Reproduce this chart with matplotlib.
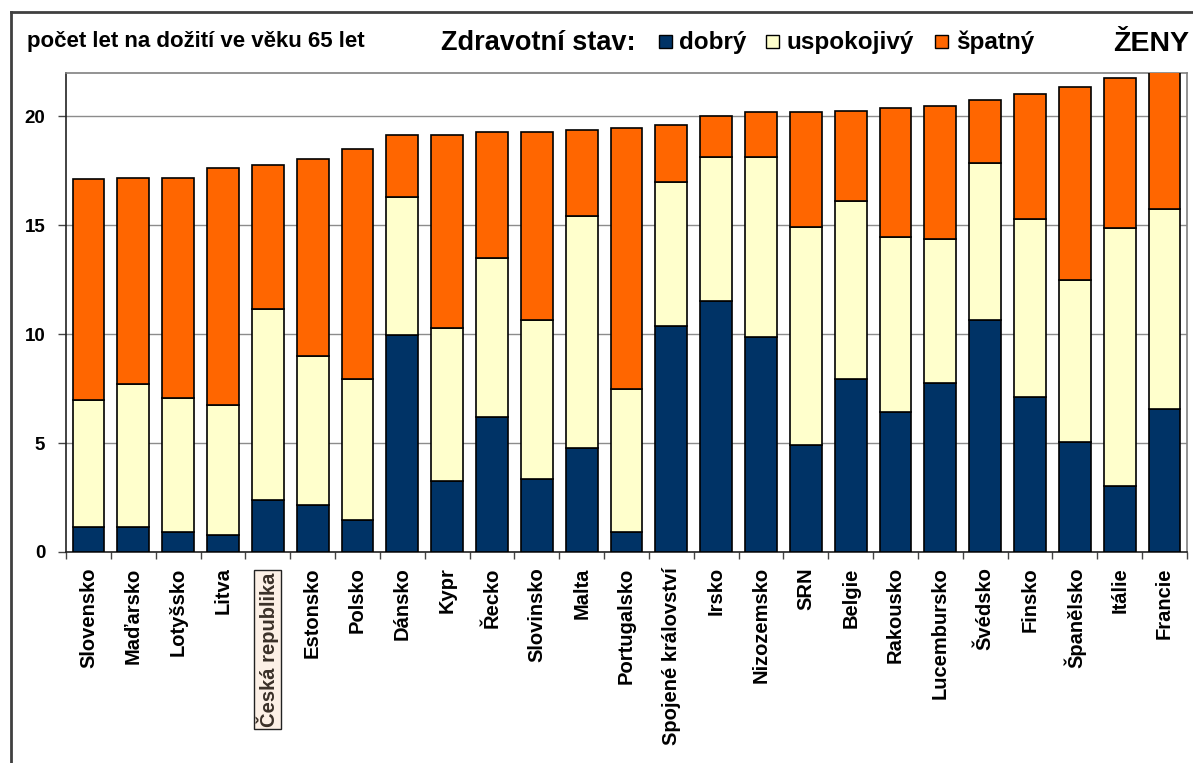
import matplotlib
matplotlib.use("Agg")
import matplotlib.pyplot as plt
from matplotlib.patches import Rectangle
from matplotlib.lines import Line2D
import numpy as np

plt.rcParams['font.family'] = ['Liberation Sans', 'DejaVu Sans']

categories = ["Slovensko", "Maďarsko", "Lotyšsko", "Litva", "Česká republika",
              "Estonsko", "Polsko", "Dánsko", "Kypr", "Řecko", "Slovinsko", "Malta",
              "Portugalsko", "Spojené království", "Irsko", "Nizozemsko", "SRN",
              "Belgie", "Rakousko", "Lucembursko", "Švédsko", "Finsko",
              "Španělsko", "Itálie", "Francie"]

dobry = [1.16, 1.16, 0.93, 0.79, 2.38, 2.17, 1.47, 9.94, 3.27, 6.21, 3.33, 4.76,
         0.93, 10.37, 11.51, 9.86, 4.92, 7.92, 6.41, 7.77, 10.66, 7.13, 5.04, 3.02, 6.56]
uspokojivy = [5.82, 6.53, 6.12, 5.97, 8.77, 6.81, 6.45, 6.37, 7.02, 7.26, 7.33, 10.67,
              6.55, 6.59, 6.62, 8.26, 10.00, 8.18, 8.02, 6.58, 7.19, 8.16, 7.43, 11.83, 9.17]
spatny = [10.12, 9.49, 10.13, 10.85, 6.61, 9.06, 10.57, 2.83, 8.85, 5.82, 8.63, 3.92,
          11.96, 2.61, 1.89, 2.05, 5.25, 4.13, 5.96, 6.10, 2.89, 5.74, 8.86, 6.91, 6.32]

series_names = ["dobrý", "uspokojivý", "špatný"]
colors = ["#003366", "#FFFFCC", "#FF6600"]
yticks = [0, 5, 10, 15, 20]

W, H = 1193, 763
fig = plt.figure(figsize=(W / 100, H / 100), dpi=100)

def fx(px):
    return px / W

def fy(py):
    return 1 - py / H

ax = fig.add_axes([fx(66), fy(552), fx(1187) - fx(66), fy(72.5) - fy(552)])

x = np.arange(len(categories))
d = np.array(dobry)
u = np.array(uspokojivy)
s = np.array(spatny)
bw = 0.71
ax.bar(x, d, bw, color=colors[0], edgecolor="black", linewidth=1.2, zorder=3)
ax.bar(x, u, bw, bottom=d, color=colors[1], edgecolor="black", linewidth=1.2, zorder=3)
ax.bar(x, s, bw, bottom=d + u, color=colors[2], edgecolor="black", linewidth=1.2, zorder=3)

ax.set_xlim(-0.5, len(categories) - 0.5)
ax.set_ylim(0, 22)
ax.set_yticks(yticks)
ax.set_yticklabels([str(v) for v in yticks], fontsize=13.5, fontweight="bold")
ax.yaxis.grid(True, color="#8c8c8c", linewidth=1.0, zorder=0)
ax.set_axisbelow(True)

ax.spines["top"].set_color("#808080")
ax.spines["right"].set_color("#808080")
ax.spines["left"].set_color("#222222")
ax.spines["bottom"].set_color("#222222")
for sp in ax.spines.values():
    sp.set_linewidth(1.2)

ax.tick_params(axis="y", direction="out", length=6, width=1, color="#444444", pad=9)
# category boundary ticks on x axis
ax.set_xticks(np.arange(-0.5, len(categories) + 0.5, 1.0))
ax.set_xticklabels([])
ax.tick_params(axis="x", direction="out", length=5, width=1, color="#444444")

for i, name in enumerate(categories):
    if name == "Česká republika":
        ax.text(i, -0.95, name, rotation=90, ha="center", va="top",
                fontsize=14.5, fontweight="bold", color="#3a3028",
                transform=ax.transData, clip_on=False,
                bbox=dict(boxstyle="square,pad=0.12", facecolor="#FCF0E6",
                          edgecolor="#222222", linewidth=1.0))
    else:
        ax.text(i, -0.7, name, rotation=90, ha="center", va="top",
                fontsize=14.5, fontweight="bold", color="black",
                transform=ax.transData, clip_on=False)

# outer frame
fig.add_artist(Line2D([fx(11), fx(11)], [fy(12), 0], transform=fig.transFigure,
                      color="#404040", linewidth=2))
fig.add_artist(Line2D([fx(11), 1], [fy(12), fy(12)], transform=fig.transFigure,
                      color="#404040", linewidth=2))

# header texts
fig.text(fx(27), fy(47), "počet let na dožití ve věku 65 let", fontsize=16,
         fontweight="bold", ha="left", va="baseline")
fig.text(fx(441), fy(50), "Zdravotní stav:", fontsize=19.5,
         fontweight="bold", ha="left", va="baseline")
fig.text(fx(1113), fy(51), "ŽENY", fontsize=20.5,
         fontweight="bold", ha="left", va="baseline")

# legend
leg_sq = [659, 766, 935]
leg_tx = [679, 786, 956]
for sx, tx, name, c in zip(leg_sq, leg_tx, series_names, colors):
    fig.add_artist(Rectangle((fx(sx), fy(48)), fx(13), fy(35) - fy(48),
                             transform=fig.transFigure, facecolor=c,
                             edgecolor="black", linewidth=1.0))
    fig.text(fx(tx), fy(49), name, fontsize=17.5, fontweight="bold",
             ha="left", va="baseline")

fig.savefig("out.png", dpi=100)
